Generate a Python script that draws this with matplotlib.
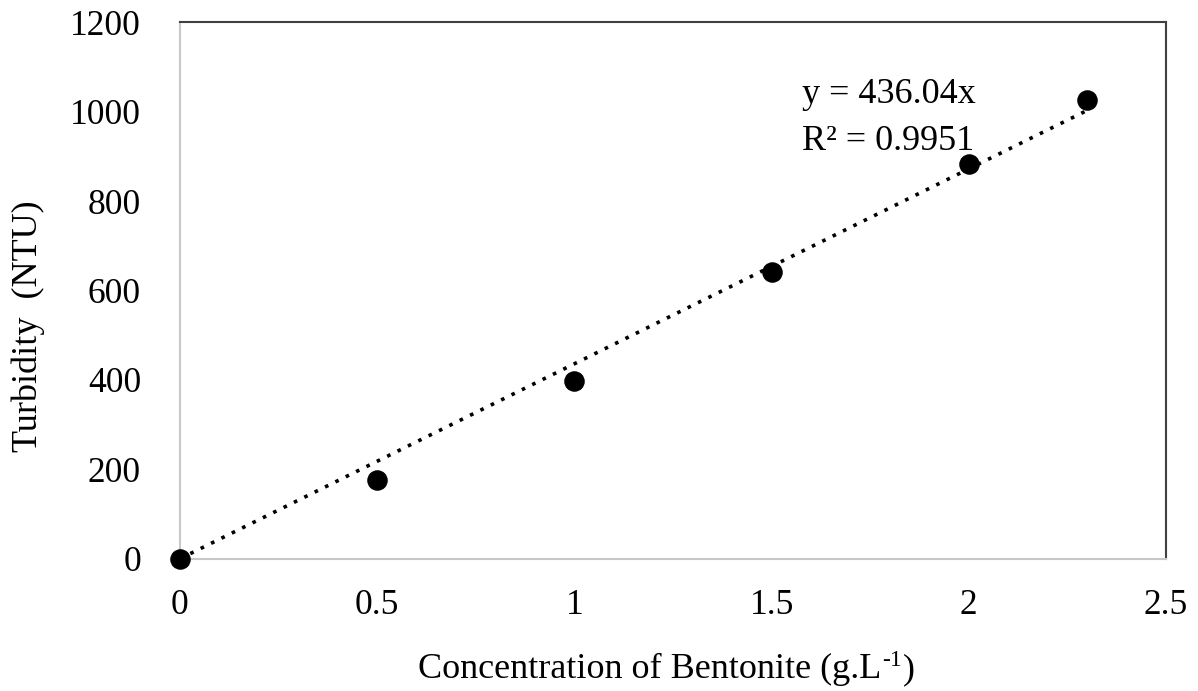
import matplotlib
matplotlib.use("Agg")
import matplotlib.pyplot as plt
import numpy as np

concentration = [0.0, 0.5, 1.0, 1.5, 2.0, 2.3]
turbidity = [0, 176, 397, 641, 882, 1026]
slope = 436.04
r2 = 0.9951
x_ticks = [0, 0.5, 1, 1.5, 2, 2.5]
x_tick_labels = ["0", "0.5", "1", "1.5", "2", "2.5"]
y_ticks = [0, 200, 400, 600, 800, 1000, 1200]

plt.rcParams['font.family'] = ['Liberation Serif', 'DejaVu Serif']
plt.rcParams['axes.unicode_minus'] = False

W, H = 1198, 691
fig = plt.figure(figsize=(W/100, H/100), dpi=100)
ax = fig.add_axes([180/W, 1 - 558.7/H, (1166-180)/W, (558.7-22.3)/H])

xfit = np.array([0.0, max(concentration)])
ax.plot(xfit, slope * xfit, linestyle=(0, (1, 2.2)), color='black', linewidth=2.6, zorder=2)
ax.scatter(concentration, turbidity, s=190, color='black', zorder=3, clip_on=False)

ax.set_xlim(0, 2.5)
ax.set_ylim(0, 1200)
ax.set_xticks(x_ticks)
ax.set_xticklabels(x_tick_labels)
ax.set_yticks(y_ticks)
ax.tick_params(axis='both', length=0, labelsize=25.5)
ax.tick_params(axis='x', pad=22)
ax.tick_params(axis='y', pad=28)

for side in ['left', 'bottom']:
    ax.spines[side].set_color('#c8c8c8')
    ax.spines[side].set_linewidth(1.5)
for side in ['top', 'right']:
    ax.spines[side].set_color('#404040')
    ax.spines[side].set_linewidth(1.5)

# x label with small raised "-1" drawn as separate text pieces
base_y = 1 - 678/H
t1 = fig.text(418/W, base_y, 'Concentration of Bentonite (g.L', fontsize=26, ha='left', va='baseline')
fig.canvas.draw()
bb = t1.get_window_extent()
t2 = fig.text((bb.x1 + 1)/W, base_y + 12/H, '-1', fontsize=17, ha='left', va='baseline')
fig.canvas.draw()
bb2 = t2.get_window_extent()
fig.text((bb2.x1 + 1)/W, base_y, ')', fontsize=26, ha='left', va='baseline')

ax.set_ylabel('Turbidity  (NTU)', fontsize=26)
ax.yaxis.set_label_coords(-0.137, 0.434)

fig.text(802/W, 1 - 103/H, f'y = {slope}x', fontsize=26, ha='left', va='baseline')
fig.text(802/W, 1 - 150/H, f'R² = {r2}', fontsize=26, ha='left', va='baseline')

fig.savefig('out.png', dpi=100)
